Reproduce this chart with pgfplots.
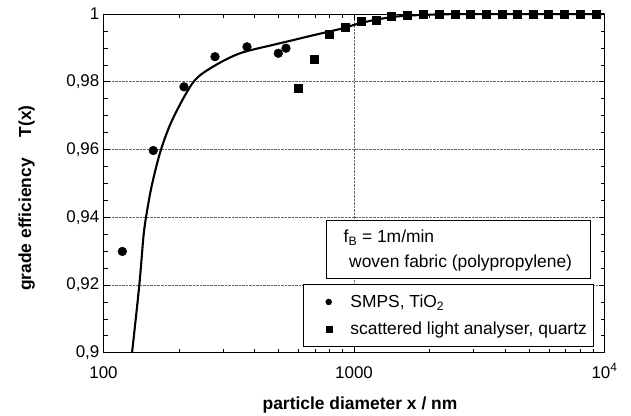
\documentclass[border=0pt]{standalone}
\usepackage{pgfplots}
\pgfplotsset{compat=1.18}
\usepackage{fontspec}
\setmainfont{Liberation Sans}

% measured data: SMPS (TiO2), scattered light analyser (quartz), fitted curve
\pgfplotstableread{
x     T
118.9 0.9299
158   0.9597
209.6 0.9785
278.7 0.9874
374   0.9903
498.6 0.9884
535   0.9899
}\smps
\pgfplotstableread{
x     T
597   0.9782
692   0.9866
793   0.9939
921   0.9960
1064  0.9979
1225  0.9982
1413  0.9994
1633  0.9995
1892  0.9999
2183  0.9999
2535  0.9999
2911  0.9999
3365  0.9999
3890  0.9999
4487  0.9999
5188  0.9999
5984  0.9999
6918  0.9999
7980  0.9999
9247  1.0000
}\sla
\pgfplotstableread{
x     T
130.0 0.9000
139.0 0.9200
144.2 0.9339
147.8 0.9400
155.8 0.9493
169.2 0.9597
188.9 0.9690
228.3 0.9799
274.4 0.9845
350.6 0.9884
476.2 0.9909
572.4 0.9923
667.4 0.9935
906.4 0.9958
1000  0.9968
1200  0.9982
1500  0.9993
2000  0.9998
3000  1.0000
10000 1.0000
}\fit

\begin{document}
\begin{tikzpicture}
\useasboundingbox (-103.5bp,-63.3bp) rectangle (527.5bp,352.7bp);
\begin{axis}[
    scale only axis,
    width=501bp, height=338.7bp,
    xmode=log,
    xmin=100, xmax=10000,
    ymin=0.9, ymax=1,
    xtick={100,1000,10000},
    xticklabels={100,1000,10\textsuperscript{4}},
    ytick={0.9,0.92,0.94,0.96,0.98,1},
    yticklabels={{0,9},{0,92},{0,94},{0,96},{0,98},{1}},
    minor y tick num=3,
    xtick pos=both, ytick pos=both,
    tick align=inside,
    major tick length=6bp, minor tick length=4bp,
    tick style={black, line width=0.6pt},
    axis line style={line width=0.9pt},
    grid=major,
    grid style={densely dotted, black!60, line width=0.6pt},
    /pgf/number format/assume math mode=true,
    ticklabel style={font=\fontsize{17}{20}\selectfont},
    xticklabel style={anchor=base, yshift=-25.3bp},
    yticklabel style={inner xsep=4bp},
    xlabel={\textbf{particle diameter x / nm}},
    ylabel={\textbf{grade efficiency\hspace{1.2em}T(x)}},
    label style={font=\fontsize{17.5}{20}\selectfont},
    xlabel style={at={(axis description cs:0.512,-0.1535)}, anchor=center},
    ylabel style={at={(axis description cs:-0.1533,0.4567)}, anchor=center},
    legend style={at={(axis description cs:0.4427,0.1098)}, anchor=west,
        draw=none, fill=none, inner sep=0pt, row sep=13bp,
        nodes={inner sep=0pt},
        font=\fontsize{17.5}{20}\selectfont},
    legend cell align=left,
    legend image code/.code={\path (-3bp,0bp) (21.5bp,0bp);
        \draw[#1, mark size=3bp] plot coordinates {(0bp,0bp)};},
]
\addplot[black, line width=2.1pt, smooth, forget plot] table[x=x, y=T] {\fit};

\draw[line width=1bp, fill=white]
    (axis description cs:0.4455,0.2176) rectangle (axis description cs:0.973,0.3897);
\draw[line width=1bp, fill=white]
    (axis description cs:0.3988,0.0177) rectangle (axis description cs:0.979,0.2028);
\node[anchor=west, align=left, inner sep=0pt,
      font=\fontsize{17.5}{25}\selectfont]
    at (axis description cs:0.49,0.3017)
    {\hspace*{-5.5bp}f\textsubscript{B} = 1m/min\\woven fabric (polypropylene)};

\addplot[only marks, mark=*, mark size=4.4bp, black] table[x=x, y=T] {\smps};
\addlegendentry{SMPS, TiO\textsubscript{2}}
\addplot[only marks, mark=square*, mark size=4bp, black] table[x=x, y=T] {\sla};
\addlegendentry{scattered light analyser, quartz}
\end{axis}
\end{tikzpicture}
\end{document}
